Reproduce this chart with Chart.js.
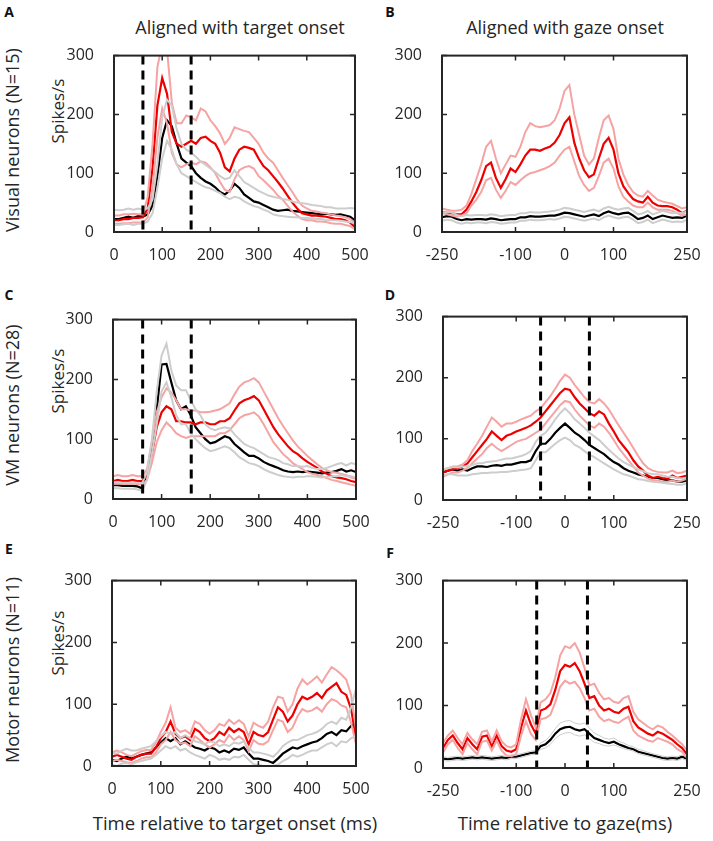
<!DOCTYPE html>
<html>
<head>
<meta charset="utf-8">
<script src="https://cdn.jsdelivr.net/npm/chart.js@4"></script>
<style>
  body { margin: 0; background: #fff; }
  #page { position: relative; width: 713px; height: 841px; font-family: "Open Sans", sans-serif; color: #262626; }
  canvas { position: absolute; }
  .txt { position: absolute; white-space: nowrap; font-size: 18px; transform: translate(-50%, -50%); }
  .rot { transform: translate(-50%, -50%) rotate(-90deg); }
  .spk { font-size: 17px; }
  .xt { font-size: 18.5px; }
  .letter { position: absolute; font-weight: bold; font-size: 14px; color: #111; transform: translate(-50%, -50%); }
</style>
</head>
<body>
<div id="page">
  <div class="letter" style="left:9px;top:11px">A</div>
  <div class="letter" style="left:390px;top:11px">B</div>
  <div class="letter" style="left:9px;top:294px">C</div>
  <div class="letter" style="left:390px;top:294px">D</div>
  <div class="letter" style="left:9px;top:548px">E</div>
  <div class="letter" style="left:390px;top:552px">F</div>

  <div class="txt" style="left:240px;top:27px">Aligned with target onset</div>
  <div class="txt" style="left:565px;top:27px">Aligned with gaze onset</div>

  <div class="txt rot" style="left:12px;top:140px">Visual neurons (N=15)</div>
  <div class="txt rot" style="left:12px;top:405px">VM neurons (N=28)</div>
  <div class="txt rot" style="left:12px;top:670px">Motor neurons (N=11)</div>

  <div class="txt rot spk" style="left:57px;top:111px">Spikes/s</div>
  <div class="txt rot spk" style="left:57px;top:381px">Spikes/s</div>
  <div class="txt rot spk" style="left:57px;top:643px">Spikes/s</div>

  <div class="txt xt" style="left:235px;top:822px">Time relative to target onset (ms)</div>
  <div class="txt xt" style="left:565px;top:822px">Time relative to gaze(ms)</div>

  <canvas id="cA"></canvas>
  <canvas id="cB"></canvas>
  <canvas id="cC"></canvas>
  <canvas id="cD"></canvas>
  <canvas id="cE"></canvas>
  <canvas id="cF"></canvas>
</div>

<script>
// time axes (ms)
const tTarget = [0,10,20,30,40,50,60,70,80,90,100,110,120,130,140,150,160,170,180,190,200,210,220,230,240,250,260,270,280,290,300,310,320,330,340,350,360,370,380,390,400,410,420,430,440,450,460,470,480,490,500]
const tGaze = [-250,-240,-230,-220,-210,-200,-190,-180,-170,-160,-150,-140,-130,-120,-110,-100,-90,-80,-70,-60,-50,-40,-30,-20,-10,0,10,20,30,40,50,60,70,80,90,100,110,120,130,140,150,160,170,180,190,200,210,220,230,240,250]

const ticksTarget = [0,100,200,300,400,500]
const ticksGaze = [-250,-100,0,100,250]
const ticksRate = [0,100,200,300]

// A: visual neurons, target aligned
const aRed    = [20,20,22,22,24,24,25,40,110,215, 262,235,170,150,145,150,155,150,160,162, 155,150,135,110,103,125,140,145,143,140, 125,112,105,95,85,74,62,50,40,32, 30,28,28,27,26,24,22,22,20,16, 8]
const aRedHi  = [28,28,30,30,31,30,30,60,150,280, 320,310,220,185,185,198,195,190,210,205, 190,180,168,150,160,178,175,172,170,160, 150,135,125,118,105,92,80,68,55,45, 40,36,35,33,32,30,28,27,25,22, 15]
const aRedLo  = [14,14,15,15,16,16,16,25,75,160, 210,185,135,115,110,115,118,115,120,118, 110,100,85,72,68,90,105,110,112,108, 95,88,80,72,62,55,45,35,28,22, 20,20,18,18,17,15,14,14,12,10, 5]
const aBlack  = [22,22,24,26,24,27,26,30,45,95, 160,190,180,150,125,118,112,100,92,86, 82,76,68,64,70,82,75,64,58,52, 50,46,42,38,36,37,38,36,35,34, 33,32,31,30,31,30,29,30,28,26, 20]
const aBlackHi= [38,37,38,40,38,40,38,40,55,115, 195,225,215,175,150,140,135,128,120,114, 108,102,95,90,92,105,95,85,80,75, 70,66,62,60,58,56,55,52,50,49, 48,46,45,44,42,42,40,40,40,41, 40]
const aBlackLo= [12,12,13,14,12,14,14,18,32,75, 125,155,140,115,100,95,90,85,80,76, 74,70,66,60,56,60,58,52,48,44, 42,38,35,30,28,27,26,25,25,24, 24,23,22,22,20,20,20,19,18,17, 15]

// B: visual neurons, gaze aligned
const bRed    = [33,33,32,30,30,38,52,68,88,112, 118,92,75,90,108,102,115,130,140,140, 138,142,145,152,165,185,195,152,125,105, 93,98,125,150,160,140,100,78,66,56, 52,50,60,50,45,44,44,42,38,32, 36]
const bRedHi  = [40,38,36,36,38,45,65,90,115,145, 155,125,100,115,130,128,145,170,185,180, 178,180,182,190,210,240,250,200,165,130, 115,125,160,190,198,175,125,98,80,68, 62,60,70,62,55,52,50,48,44,40, 42]
const bRedLo  = [32,30,28,26,28,32,45,55,68,88, 92,72,58,70,85,80,88,95,100,102, 105,108,112,118,130,140,145,120,95,80, 70,75,95,118,125,108,78,60,52,45, 42,42,50,42,38,38,38,36,32,28, 30]
const bBlack  = [25,27,26,22,20,22,21,22,22,21, 23,22,20,21,22,22,25,25,27,26, 26,27,28,28,30,33,32,30,28,26, 28,30,27,32,35,32,30,32,33,28, 22,24,28,22,25,28,26,24,25,24, 28]
const bBlackHi= [32,34,33,29,27,29,28,29,29,28, 30,29,27,28,29,29,32,32,34,33, 33,34,35,36,38,41,40,38,36,34, 36,38,35,40,43,40,38,40,41,36, 30,32,36,30,33,36,34,32,33,32, 35]
const bBlackLo= [19,21,20,16,14,16,15,16,16,15, 17,16,14,15,16,16,19,19,21,20, 20,21,22,21,23,26,25,23,21,19, 21,23,20,25,28,25,23,25,26,21, 15,17,21,15,18,21,19,17,18,17, 21]

// C: VM neurons, target aligned
const cRed    = [30,32,30,30,32,30,30,40,75,120, 145,155,150,130,130,128,128,125,128,128, 125,125,130,130,135,148,160,165,168,172, 165,150,135,120,108,98,88,80,75,68, 62,57,52,46,42,38,36,35,33,30, 28]
const cRedHi  = [38,40,38,38,40,38,38,50,95,145, 170,185,178,165,150,150,148,148,145,145, 146,148,150,155,160,175,188,195,198,202, 195,180,165,150,135,122,110,98,88,80, 72,65,58,52,48,45,44,42,40,36, 34]
const cRedLo  = [25,26,25,25,26,25,24,32,60,95, 115,128,120,110,105,102,105,105,105,105, 105,105,110,110,115,125,135,140,142,145, 138,125,110,95,85,75,68,60,55,50, 45,42,40,38,35,32,30,28,26,24, 22]
const cBlack  = [23,23,22,22,22,21,18,40,90,150, 225,226,195,165,150,155,140,120,110,100, 93,95,100,105,102,92,85,78,72,72, 68,62,58,55,52,48,46,45,46,45, 46,45,44,43,44,45,47,50,46,48, 45]
const cBlackHi= [28,28,27,27,27,27,26,45,100,180, 240,260,215,190,182,182,165,150,140,125, 118,115,118,120,118,108,100,92,88,85, 80,75,70,68,65,60,58,55,55,54, 55,52,50,50,52,55,58,60,56,60, 58]
const cBlackLo= [18,18,17,17,17,16,14,32,75,125, 180,195,170,140,125,125,110,100,92,85, 80,82,85,88,85,78,70,65,60,58, 55,50,46,43,40,38,37,36,37,37, 38,38,37,36,37,38,38,40,38,38, 36]

// D: VM neurons, gaze aligned
const dRed    = [45,48,50,52,55,60,70,80,90,100, 112,105,98,105,108,112,115,118,122,128, 135,145,155,165,175,182,180,168,158,150, 142,138,145,140,125,112,98,88,78,65, 55,48,40,36,38,36,35,40,36,38, 40]
const dRedHi  = [50,52,55,55,58,65,80,92,105,120, 135,128,120,125,125,128,132,135,138,145, 150,160,170,182,195,205,200,188,178,168, 160,158,165,158,148,135,122,110,98,85, 72,60,52,48,46,45,45,48,44,45, 48]
const dRedLo  = [38,42,45,45,48,52,60,68,75,85, 92,85,80,85,90,95,98,100,105,110, 115,125,135,145,155,162,160,148,138,130, 122,118,125,120,110,98,85,75,65,55, 45,40,35,32,32,30,30,32,30,32, 35]
const dBlack  = [45,48,50,48,50,48,52,55,55,54, 56,57,56,58,58,60,62,62,65,80, 92,92,100,110,118,125,118,110,105,98, 90,85,80,75,68,62,58,52,48,45, 42,40,38,36,36,34,32,32,30,30, 32]
const dBlackHi= [50,52,54,53,55,55,57,60,60,62, 63,64,66,68,68,70,72,75,80,95, 105,110,120,132,142,150,142,132,125,118, 110,104,98,90,82,75,68,62,58,54, 50,47,44,42,42,40,38,38,36,35, 37]
const dBlackLo= [40,42,42,40,40,40,42,43,44,44, 45,45,46,46,47,48,49,50,52,65, 78,78,85,92,98,102,98,90,86,80, 74,70,65,60,55,50,46,42,40,37, 34,33,31,30,29,28,27,26,25,25, 27]

// E: motor neurons, target aligned
const eRed    = [15,18,15,12,10,15,18,20,20,30, 45,55,72,52,45,48,42,60,55,45, 40,45,55,50,62,55,60,55,35,55, 50,48,55,75,95,88,72,82,100,112, 108,112,118,110,122,128,134,120,115,92, 45]
const eRedHi  = [22,25,22,18,16,20,24,26,26,38, 55,70,95,62,55,58,52,72,68,58, 52,58,68,65,75,68,74,68,48,70, 65,62,72,95,112,110,88,100,125,140, 132,138,145,135,148,160,155,148,140,115, 60]
const eRedLo  = [8,10,8,6,5,8,12,14,14,22, 35,42,55,42,36,38,32,48,42,35, 30,35,42,38,50,42,48,42,24,42, 36,35,40,58,75,72,55,62,80,92, 88,90,95,88,100,108,105,98,95,70, 35]
const eBlack  = [10,8,12,15,12,15,18,20,22,30, 38,45,40,45,35,40,35,30,28,25, 30,28,22,25,22,28,26,30,20,12, 12,10,8,5,12,20,25,30,28,32, 35,38,40,45,52,55,50,58,56,65, 70]
const eBlackHi= [22,20,25,28,25,25,28,30,32,40, 48,55,52,55,45,50,45,40,38,35, 40,38,32,35,32,38,36,40,30,22, 22,20,18,15,22,32,38,42,42,46, 50,52,55,60,68,72,68,78,75,95, 125]
const eBlackLo= [2,0,4,5,3,6,8,10,12,18, 25,32,28,32,25,28,22,18,15,12, 18,15,10,12,10,15,14,18,10,3, 2,0,0,0,2,8,12,18,15,18, 22,25,25,30,35,38,32,40,38,45, 48]

// F: motor neurons, gaze aligned
const fRed    = [32,45,52,40,30,48,38,30,50,52, 35,52,35,28,26,30,65,92,70,55, 92,95,102,125,155,165,162,168,155,135, 112,115,100,92,95,90,88,95,98,75, 65,60,55,52,58,55,50,45,38,32, 22]
const fRedHi  = [40,52,60,48,38,56,46,38,58,60, 42,60,43,35,33,38,78,110,85,65, 105,110,120,145,180,195,192,200,185,160, 132,135,120,110,112,106,104,112,115,90, 78,72,66,62,68,65,58,52,45,38, 28]
const fRedLo  = [25,38,45,32,22,40,30,22,42,44, 28,44,28,20,19,22,52,75,55,45, 78,80,85,105,130,140,135,138,128,112, 92,95,82,75,78,74,72,78,82,60, 52,48,44,42,48,45,42,38,30,26, 16]
const fBlack  = [15,14,15,16,15,16,17,16,17,16, 15,16,17,16,18,18,20,22,24,25, 35,38,45,55,62,65,66,62,60,62, 55,48,45,42,40,42,38,35,32,30, 26,24,22,20,18,16,15,16,15,18, 15]
const fBlackHi= [18,17,18,19,18,19,20,19,20,19, 18,19,20,19,21,21,23,25,27,28, 40,44,52,63,72,75,76,72,70,72, 64,56,52,48,46,48,43,40,36,34, 30,28,25,23,21,19,18,19,18,21, 18]
const fBlackLo= [12,11,12,13,12,13,14,13,14,13, 12,13,14,13,15,15,17,19,21,22, 30,32,38,47,53,56,57,53,51,53, 47,41,39,36,35,37,34,31,29,27, 23,21,19,17,15,13,12,13,12,15, 12]

const RED = '#ee0000'
const PINK = '#f5a3a3'
const GREY = '#cdcdcd'
const INK = '#262626'

// box, inward ticks and dashed markers like the matlab axes
const frame = {
    id: 'frame',
    afterDatasetsDraw(chart, args, opts) {
        const {ctx, chartArea: a, scales: {x, y}} = chart
        ctx.save()
        ctx.strokeStyle = '#000'
        ctx.lineWidth = 3
        ctx.setLineDash([9, 6])
        ;(opts.marks || []).forEach(v => {
            const px = x.getPixelForValue(v)
            ctx.beginPath()
            ctx.moveTo(px, a.top)
            ctx.lineTo(px, a.bottom)
            ctx.stroke()
        })
        ctx.setLineDash([])
        ctx.strokeStyle = INK
        ctx.lineWidth = 1.5
        ctx.beginPath()
        x.ticks.forEach(t => {
            const px = x.getPixelForValue(t.value)
            ctx.moveTo(px, a.bottom); ctx.lineTo(px, a.bottom - 5)
            ctx.moveTo(px, a.top); ctx.lineTo(px, a.top + 5)
        })
        y.ticks.forEach(t => {
            const py = y.getPixelForValue(t.value)
            ctx.moveTo(a.left, py); ctx.lineTo(a.left + 5, py)
            ctx.moveTo(a.right, py); ctx.lineTo(a.right - 5, py)
        })
        ctx.stroke()
        ctx.lineWidth = 2
        ctx.strokeRect(a.left, a.top, a.right - a.left, a.bottom - a.top)
        ctx.restore()
    }
}

function series(times, vals, color, width) {
    return {
        data: times.map((t, i) => ({x: t, y: vals[i]})),
        borderColor: color,
        borderWidth: width,
        pointRadius: 0,
        tension: 0,
        fill: false,
    }
}

function panel(id, box, times, xTicks, lines, marks, greyWidth) {
    const padL = 62, padT = 14, padR = 28, padB = 36
    const cv = document.getElementById(id)
    cv.style.left = (box[0] - padL) + 'px'
    cv.style.top = (box[1] - padT) + 'px'
    cv.width = box[2] - box[0] + padL + padR
    cv.height = box[3] - box[1] + padT + padB
    const font = {family: 'Open Sans', size: 16}
    new Chart(cv.getContext('2d'), {
        type: 'line',
        data: {
            datasets: [
                series(times, lines[4], GREY, greyWidth),
                series(times, lines[5], GREY, greyWidth),
                series(times, lines[1], PINK, 2),
                series(times, lines[2], PINK, 2),
                series(times, lines[0], RED, 2.2),
                series(times, lines[3], '#000', 2.2),
            ],
        },
        options: {
            responsive: false,
            animation: false,
            events: [],
            layout: {padding: {left: 0, top: padT, right: padR, bottom: 0}},
            plugins: {legend: {display: false}, tooltip: {enabled: false}, frame: {marks}},
            scales: {
                x: {
                    type: 'linear',
                    min: times[0],
                    max: times[times.length - 1],
                    afterBuildTicks: s => { s.ticks = xTicks.map(v => ({value: v})) },
                    afterFit: s => { s.height = padB },
                    grid: {display: false},
                    border: {display: false},
                    ticks: {font, color: INK, padding: 6, maxRotation: 0, autoSkip: false},
                },
                y: {
                    min: 0,
                    max: 300,
                    afterBuildTicks: s => { s.ticks = ticksRate.map(v => ({value: v})) },
                    afterFit: s => { s.width = padL },
                    grid: {display: false},
                    border: {display: false},
                    ticks: {font, color: INK, padding: 12},
                },
            },
        },
        plugins: [frame],
    })
}

panel('cA', [114, 48, 355, 232], tTarget, ticksTarget, [aRed, aRedHi, aRedLo, aBlack, aBlackHi, aBlackLo], [60, 160], 2)
panel('cB', [442, 48, 687, 232], tGaze, ticksGaze, [bRed, bRedHi, bRedLo, bBlack, bBlackHi, bBlackLo], [], 2)
panel('cC', [113, 312, 356, 499], tTarget, ticksTarget, [cRed, cRedHi, cRedLo, cBlack, cBlackHi, cBlackLo], [61, 161], 2)
panel('cD', [443, 309, 687, 500], tGaze, ticksGaze, [dRed, dRedHi, dRedLo, dBlack, dBlackHi, dBlackLo], [-50, 50], 2)
panel('cE', [112, 573, 356, 766], tTarget, ticksTarget, [eRed, eRedHi, eRedLo, eBlack, eBlackHi, eBlackLo], [], 2)
panel('cF', [443, 573, 687, 768], tGaze, ticksGaze, [fRed, fRedHi, fRedLo, fBlack, fBlackHi, fBlackLo], [-58, 46], 1)
</script>
</body>
</html>
